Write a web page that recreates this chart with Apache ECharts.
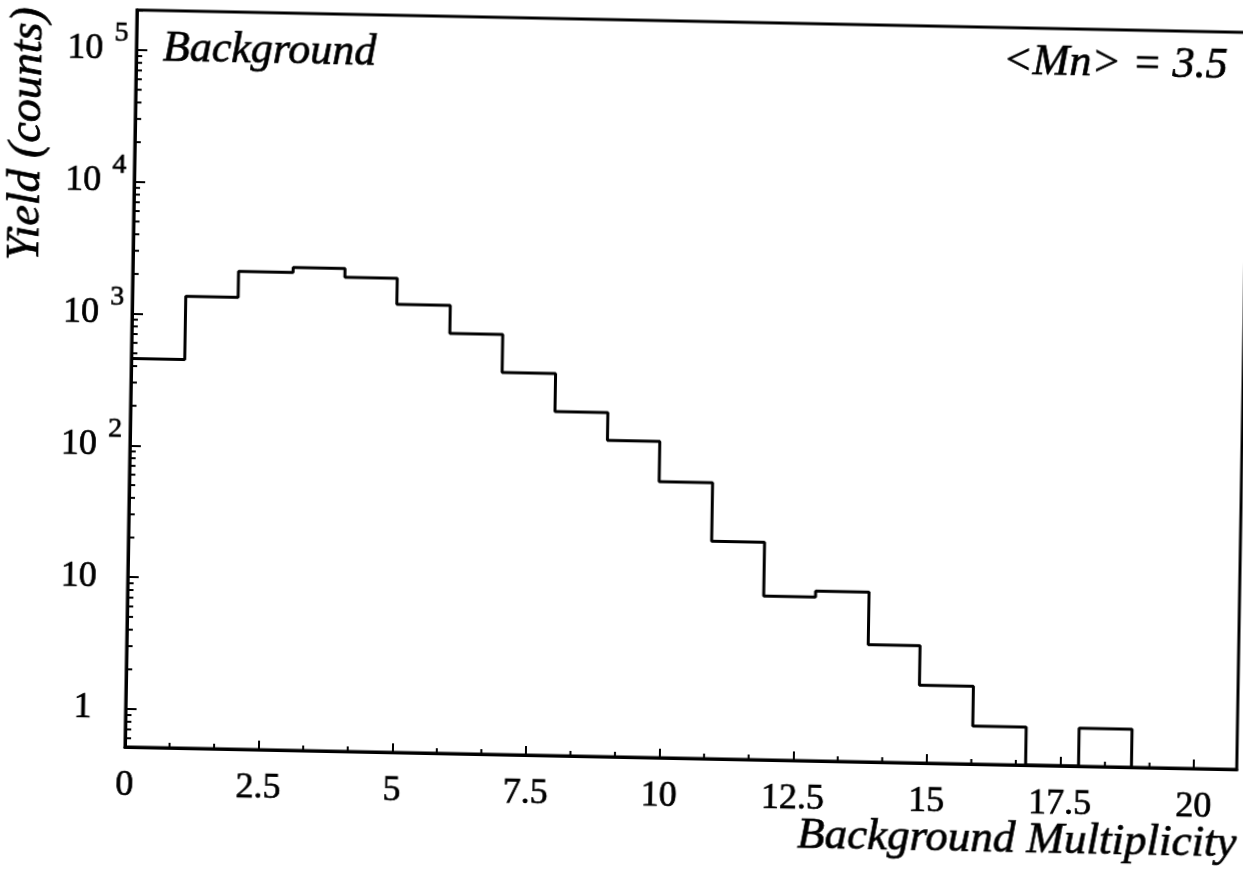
<!DOCTYPE html>
<html><head><meta charset="utf-8">
<script src="https://cdn.jsdelivr.net/npm/echarts@6/dist/echarts.min.js"></script>
<style>
html,body{margin:0;padding:0;background:#fff;overflow:hidden;width:1243px;height:873px}
/* the reference is a slightly skewed scan: reproduce its tilt */
#c{width:1260px;height:873px;transform-origin:0 0;transform:matrix(1,0.0202,-0.0163,1,7.34,-13.6)}
</style>
</head><body><div id="c"></div>
<script>
// ---- data ----
const binEdges = [0, 1.0, 1.98, 3.0, 3.97, 4.95, 5.95, 6.94, 7.94, 8.93, 9.91, 10.91, 11.9, 12.87, 13.87, 14.84, 15.85, 16.85, 17.84, 18.83];
const counts   = [457, 1375, 2170, 2370, 2030, 1288, 791, 407, 210, 129, 64, 23, 9, 10, 4, 2, 1, 0, 1];
const xTickLabels = ['0', '2.5', '5', '7.5', '10', '12.5', '15', '17.5', '20'];
const yTickExponents = [0, 1, 2, 3, 4, 5];
const X_MIN = 0, X_MAX = 20.8, X_STEP = 2.5;
const Y_MIN = 0.515, Y_MAX = 201000;

const FONT = "'Liberation Serif','Times New Roman',serif";

// histogram outline: empty bins drawn at the axis floor
const stepPoints = binEdges.map((e, i) => [e, (i < counts.length && counts[i] > 0) ? counts[i] : Y_MIN]);

// minor tick positions (axis decoration)
const yMinor = [];
for (let k = -1; k <= 5; k++) for (let m = 2; m <= 9; m++) {
  const v = m * Math.pow(10, k);
  if (v > Y_MIN && v < Y_MAX) yMinor.push([X_MIN, v]);
}
const xMinor = [];
for (let i = 0; i < xTickLabels.length - 1; i++) for (let j = 1; j <= 2; j++) xMinor.push([(i + j / 3) * X_STEP, Y_MIN]);

const chart = echarts.init(document.getElementById('c'), null, {renderer: 'canvas'});
const thick = {textBorderColor: '#000', textBorderWidth: 0.7};
chart.setOption({
  animation: false,
  backgroundColor: '#fff',
  grid: {left: 130, right: 18, top: 21, bottom: 115, show: true, borderColor: '#000', borderWidth: 3, backgroundColor: 'transparent'},
  xAxis: {
    type: 'value', min: X_MIN, max: X_MAX, interval: X_STEP,
    axisLine: {show: true, lineStyle: {color: '#000', width: 3}},
    axisTick: {show: true, inside: true, length: 9, lineStyle: {color: '#000', width: 2}},
    axisLabel: Object.assign({
      color: '#000', fontFamily: FONT, fontSize: 36, margin: 21, showMaxLabel: false,
      formatter: v => {
        const idx = Math.round(v / X_STEP);
        return Math.abs(idx * X_STEP - v) < 1e-6 && idx < xTickLabels.length ? xTickLabels[idx] : '';
      }
    }, thick),
    splitLine: {show: false}
  },
  yAxis: {
    type: 'log', logBase: 10, min: Y_MIN, max: Y_MAX,
    axisLine: {show: true, lineStyle: {color: '#000', width: 3}},
    axisTick: {show: true, inside: true, length: 11, lineStyle: {color: '#000', width: 2}},
    axisLabel: {
      color: '#000', fontFamily: FONT, margin: 8,
      formatter: v => {
        const lg = Math.log10(v), e = Math.round(lg);
        if (Math.abs(lg - e) > 1e-6 || yTickExponents.indexOf(e) < 0) return '';
        if (e === 0) return '{one|1}';
        if (e === 1) return '{ten|10}';
        return '{b|10}{s|' + e + '}';
      },
      rich: {
        b: Object.assign({fontFamily: FONT, fontSize: 36, lineHeight: 60, color: '#000'}, thick),
        s: Object.assign({fontFamily: FONT, fontSize: 28, lineHeight: 28, verticalAlign: 'top', padding: [0, 0, 0, 11], color: '#000'}, thick),
        ten: Object.assign({fontFamily: FONT, fontSize: 36, padding: [0, 23, 0, 0], color: '#000'}, thick),
        one: Object.assign({fontFamily: FONT, fontSize: 36, padding: [0, 26, 0, 0], color: '#000'}, thick)
      }
    },
    splitLine: {show: false}
  },
  graphic: [
    {type: 'text', x: 156.6, y: 59.4, style: {text: 'Background', font: "italic 44px " + FONT, fill: '#000', stroke: '#000', lineWidth: 0.7, align: 'left', verticalAlign: 'middle'}},
    {type: 'text', x: 1221.6, y: 55.9, style: {text: '<Mn> = 3.5', font: "italic 44px " + FONT, fill: '#000', stroke: '#000', lineWidth: 0.7, align: 'right', verticalAlign: 'middle'}},
    {type: 'text', x: 1243, y: 833.5, style: {text: 'Background Multiplicity', font: "italic 45px " + FONT, fill: '#000', stroke: '#000', lineWidth: 0.7, align: 'right', verticalAlign: 'middle'}},
    {type: 'text', x: 23.1, y: 147, rotation: Math.PI / 2, style: {text: 'Yield (counts)', font: "italic 46px " + FONT, fill: '#000', stroke: '#000', lineWidth: 0.7, align: 'center', verticalAlign: 'middle'}}
  ],
  series: [
    {
      type: 'line', step: 'end', data: stepPoints, symbol: 'none', clip: true,
      lineStyle: {color: '#000', width: 3}, z: 3
    },
    {
      type: 'custom', data: yMinor, silent: true, z: 4,
      renderItem: (params, api) => {
        const p = api.coord([api.value(0), api.value(1)]);
        return {type: 'line', shape: {x1: p[0], y1: p[1], x2: p[0] + 6, y2: p[1]}, style: {stroke: '#000', lineWidth: 2}};
      }
    },
    {
      type: 'custom', data: xMinor, silent: true, z: 4,
      renderItem: (params, api) => {
        const p = api.coord([api.value(0), api.value(1)]);
        return {type: 'line', shape: {x1: p[0], y1: p[1], x2: p[0], y2: p[1] - 5}, style: {stroke: '#000', lineWidth: 2}};
      }
    }
  ]
});
</script>
</body></html>
